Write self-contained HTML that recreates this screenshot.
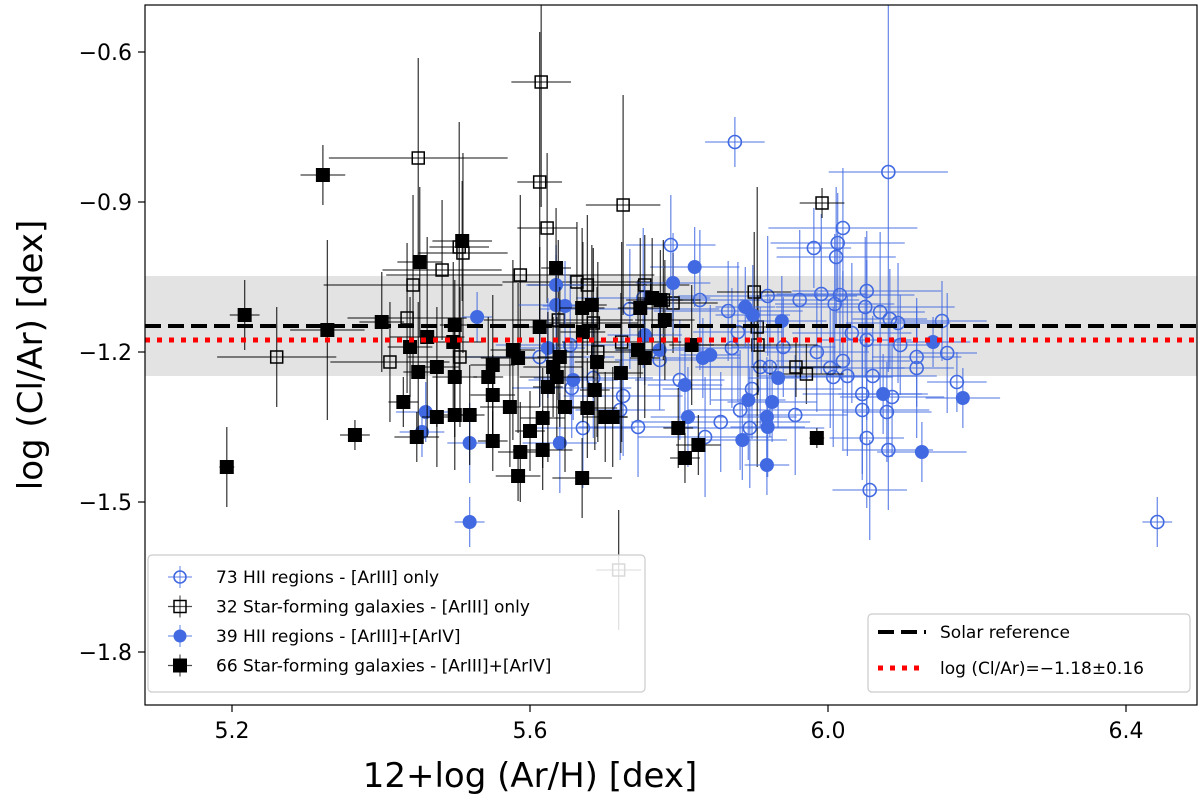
<!DOCTYPE html>
<html><head><meta charset="utf-8">
<style>
html,body{margin:0;padding:0;background:#fff;}
svg{display:block;font-family:"DejaVu Sans","Liberation Sans",sans-serif;}
</style></head>
<body>
<svg id="chart" width="1200" height="798" viewBox="0 0 1200 798" xmlns="http://www.w3.org/2000/svg">
<defs><clipPath id="plotclip"><rect x="145" y="5" width="1052" height="700"/></clipPath></defs>
<rect x="145" y="5" width="1052" height="700" fill="#fff" stroke="none"/>
<g id="band"></g>
<g id="marks" clip-path="url(#plotclip)"></g>
<g id="refs"></g>
<rect x="145" y="5" width="1052" height="700" fill="none" stroke="#000" stroke-width="1.2"/>
<g id="axes"></g>
<text x="530" y="787" font-size="34" text-anchor="middle">12+log (Ar/H) [dex]</text>
<text transform="translate(42,355) rotate(-90)" font-size="34" text-anchor="middle">log (Cl/Ar) [dex]</text>
<g id="legend1"></g>
<g id="legend2"></g>
</svg>
<script>
const xTicks=[5.2,5.6,6.0,6.4];
const xTickLabels=["5.2","5.6","6.0","6.4"];
const yTicks=[-0.6,-0.9,-1.2,-1.5,-1.8];
const yTickLabels=["\u22120.6","\u22120.9","\u22121.2","\u22121.5","\u22121.8"];
const solarRef=-1.148, fitValue=-1.176, bandLow=-1.248, bandHigh=-1.048;

const bfX=[5.322,5.217,5.328,5.365,5.193,5.401,5.430,5.452,5.509,5.462,5.439,5.450,5.475,5.499,5.497,5.499,5.475,5.499,5.519,5.448,5.550,5.544,5.550,5.550,5.573,5.577,5.584,5.587,5.584,5.600,5.617,5.617,5.613,5.635,5.640,5.631,5.636,5.624,5.647,5.670,5.670,5.683,5.671,5.690,5.687,5.677,5.701,5.711,5.722,5.748,5.764,5.775,5.781,5.745,5.754,5.817,5.799,5.826,5.808,5.985];
const bfY=[-0.846,-1.126,-1.156,-1.366,-1.430,-1.140,-1.300,-1.020,-0.978,-1.170,-1.190,-1.240,-1.230,-1.146,-1.180,-1.250,-1.330,-1.326,-1.326,-1.370,-1.226,-1.250,-1.286,-1.378,-1.310,-1.196,-1.212,-1.400,-1.448,-1.358,-1.332,-1.396,-1.150,-1.032,-1.210,-1.230,-1.250,-1.270,-1.310,-1.452,-1.112,-1.106,-1.160,-1.220,-1.276,-1.312,-1.330,-1.330,-1.242,-1.112,-1.092,-1.096,-1.136,-1.196,-1.212,-1.186,-1.352,-1.386,-1.412,-1.372];
const bfXe=[0.03,0.02,0.05,0.02,0.01,0.03,0.02,0.03,0.04,0.05,0.03,0.02,0.03,0.02,0.04,0.03,0.02,0.03,0.02,0.03,0.03,0.02,0.03,0.02,0.04,0.03,0.05,0.03,0.03,0.02,0.03,0.04,0.03,0.02,0.03,0.04,0.05,0.02,0.03,0.04,0.03,0.02,0.03,0.03,0.02,0.04,0.03,0.02,0.03,0.03,0.02,0.03,0.04,0.03,0.02,0.03,0.02,0.03,0.02,0.01];
const bfYe=[0.06,0.07,0.18,0.03,0.08,0.10,0.05,0.15,0.12,0.20,0.10,0.14,0.12,0.09,0.16,0.12,0.10,0.11,0.10,0.05,0.14,0.12,0.08,0.06,0.12,0.18,0.15,0.10,0.05,0.08,0.10,0.08,0.16,0.12,0.14,0.10,0.12,0.15,0.13,0.08,0.16,0.12,0.18,0.15,0.12,0.10,0.09,0.10,0.16,0.14,0.12,0.10,0.12,0.14,0.12,0.12,0.08,0.06,0.05,0.02];

const boX=[5.450,5.615,5.613,5.623,5.725,5.992,5.510,5.482,5.443,5.587,5.663,5.677,5.754,5.779,5.792,5.435,5.638,5.260,5.412,5.506,5.691,5.723,5.685,5.901,5.905,5.906,5.957,5.971,5.719,5.505];
const boY=[-0.812,-0.660,-0.860,-0.952,-0.906,-0.902,-1.002,-1.036,-1.066,-1.046,-1.060,-1.066,-1.066,-1.096,-1.102,-1.132,-1.136,-1.210,-1.220,-1.210,-1.200,-1.180,-1.142,-1.080,-1.150,-1.186,-1.230,-1.244,-1.636,-0.990];
const boXe=[0.12,0.04,0.03,0.04,0.05,0.03,0.06,0.08,0.12,0.18,0.10,0.08,0.06,0.05,0.06,0.08,0.10,0.08,0.08,0.07,0.06,0.08,0.06,0.05,0.03,0.08,0.06,0.05,0.03,0.04];
const boYe=[0.20,0.25,0.30,0.15,0.22,0.03,0.20,0.14,0.18,0.16,0.12,0.14,0.10,0.12,0.10,0.15,0.16,0.10,0.12,0.14,0.18,0.20,0.15,0.12,0.28,0.10,0.06,0.06,0.12,0.25];

const ooX=[5.875,6.081,5.789,6.020,6.013,5.981,6.011,5.919,5.866,5.879,5.871,5.940,5.991,6.016,6.009,6.052,6.050,6.070,6.083,6.094,6.153,6.032,6.052,5.985,6.119,6.119,6.160,6.020,6.003,6.007,6.026,6.060,6.173,5.909,5.922,5.898,6.046,6.086,6.046,6.079,5.956,5.856,5.895,5.745,5.835,6.052,6.081,6.056,5.725,5.721,5.671,5.654,5.656,5.734,5.752,5.613,5.685,6.442,5.801,5.828,5.774,5.882,5.962,6.097];
const ooY=[-0.780,-0.840,-0.986,-0.952,-0.982,-0.992,-1.010,-1.088,-1.118,-1.160,-1.192,-1.190,-1.084,-1.086,-1.104,-1.078,-1.110,-1.120,-1.134,-1.142,-1.138,-1.162,-1.176,-1.200,-1.210,-1.232,-1.202,-1.218,-1.232,-1.250,-1.248,-1.248,-1.260,-1.230,-1.230,-1.274,-1.284,-1.290,-1.316,-1.320,-1.326,-1.340,-1.352,-1.350,-1.370,-1.372,-1.396,-1.476,-1.288,-1.316,-1.352,-1.186,-1.272,-1.114,-1.092,-1.210,-1.252,-1.540,-1.256,-1.096,-1.216,-1.316,-1.096,-1.186];
const ooXe=[0.04,0.08,0.06,0.10,0.09,0.05,0.08,0.12,0.10,0.06,0.08,0.07,0.06,0.10,0.08,0.10,0.12,0.06,0.05,0.07,0.06,0.08,0.06,0.07,0.06,0.05,0.04,0.09,0.10,0.08,0.12,0.06,0.04,0.08,0.10,0.12,0.08,0.07,0.09,0.06,0.07,0.12,0.10,0.08,0.09,0.05,0.06,0.05,0.08,0.06,0.07,0.10,0.08,0.12,0.09,0.10,0.08,0.02,0.06,0.08,0.06,0.07,0.08,0.05];
const ooYe=[0.05,0.40,0.10,0.12,0.10,0.08,0.14,0.12,0.10,0.14,0.12,0.10,0.16,0.12,0.14,0.12,0.14,0.16,0.10,0.12,0.08,0.14,0.16,0.12,0.10,0.14,0.12,0.18,0.12,0.14,0.16,0.12,0.06,0.12,0.14,0.10,0.16,0.12,0.14,0.10,0.12,0.10,0.12,0.10,0.12,0.14,0.12,0.10,0.12,0.10,0.12,0.14,0.10,0.12,0.14,0.10,0.12,0.05,0.12,0.14,0.10,0.12,0.14,0.10];

const bcX=[5.635,5.635,5.647,5.529,5.624,5.658,5.460,5.455,5.519,5.640,5.519,5.821,5.792,5.889,5.899,5.938,5.832,5.842,5.774,5.808,5.933,5.893,5.925,5.812,5.918,5.919,5.885,5.918,6.141,6.074,6.181,6.126,5.754];
const bcY=[-1.066,-1.106,-1.108,-1.130,-1.192,-1.256,-1.320,-1.360,-1.382,-1.382,-1.540,-1.030,-1.062,-1.110,-1.126,-1.138,-1.212,-1.206,-1.196,-1.266,-1.252,-1.296,-1.300,-1.330,-1.330,-1.350,-1.376,-1.426,-1.180,-1.284,-1.292,-1.400,-1.166];
const bcXe=[0.04,0.05,0.03,0.02,0.05,0.06,0.04,0.03,0.03,0.05,0.02,0.06,0.05,0.04,0.05,0.06,0.05,0.04,0.06,0.05,0.04,0.05,0.06,0.05,0.04,0.05,0.06,0.03,0.05,0.06,0.05,0.06,0.05];
const bcYe=[0.08,0.10,0.09,0.05,0.10,0.08,0.06,0.05,0.08,0.10,0.05,0.08,0.10,0.08,0.10,0.09,0.08,0.10,0.10,0.08,0.10,0.12,0.08,0.10,0.12,0.10,0.08,0.06,0.05,0.08,0.06,0.06,0.10];

const X0=232, XS=745, Y0=52, YS=500;
function sx(v){return X0+(v-5.2)*XS;}
function sy(v){return Y0-(v+0.6)*YS;}
const NS="http://www.w3.org/2000/svg";
function mk(tag,attrs,parent){const e=document.createElementNS(NS,tag);for(const k in attrs)e.setAttribute(k,attrs[k]);parent.appendChild(e);return e;}

const band=document.getElementById('band');
const bandRect=mk('rect',{x:145,y:sy(bandHigh),width:1052,height:sy(bandLow)-sy(bandHigh),fill:'#e3e3e3'},band);



const marks=document.getElementById('marks');
const BLUE='#4169e1';
function series(xs,ys,xe,ye,kind,name){
  const g=mk('g',{},marks);
  
  
  const col=(kind==='oc'||kind==='fc')?BLUE:'#000';
  const op=0.75;
  for(let i=0;i<xs.length;i++){
    const cx=sx(xs[i]),cy=sy(ys[i]);
    const l1=mk('line',{x1:sx(xs[i]-xe[i]),x2:sx(xs[i]+xe[i]),y1:cy,y2:cy,stroke:col,'stroke-width':1.3,'stroke-opacity':op},g);
    
    
    const l2=mk('line',{x1:cx,x2:cx,y1:sy(ys[i]-ye[i]),y2:sy(ys[i]+ye[i]),stroke:col,'stroke-width':1.3,'stroke-opacity':op},g);
    
    
  }
  for(let i=0;i<xs.length;i++){
    const cx=sx(xs[i]),cy=sy(ys[i]);
    let m;
    if(kind==='fs') m=mk('rect',{x:cx-7,y:cy-7,width:14,height:14,fill:'#000'},g);
    else if(kind==='os') m=mk('rect',{x:cx-6,y:cy-6,width:12,height:12,fill:'none',stroke:'#000','stroke-width':1.5},g);
    else if(kind==='oc') m=mk('circle',{cx:cx,cy:cy,r:6.5,fill:'none',stroke:BLUE,'stroke-width':1.6},g);
    else m=mk('circle',{cx:cx,cy:cy,r:7,fill:BLUE},g);
    
    
  }
}
series(ooX,ooY,ooXe,ooYe,'oc','hii-arIII-only-series');
series(boX,boY,boXe,boYe,'os','sfg-arIII-only-series');
series(bcX,bcY,bcXe,bcYe,'fc','hii-arIII-arIV-series');
series(bfX,bfY,bfXe,bfYe,'fs','sfg-arIII-arIV-series');

const refs=document.getElementById('refs');
const sl=mk('line',{x1:145,x2:1197,y1:sy(solarRef),y2:sy(solarRef),stroke:'#000','stroke-width':4,'stroke-dasharray':'16,7'},refs);


const fl=mk('line',{x1:145,x2:1197,y1:sy(fitValue),y2:sy(fitValue),stroke:'#ff0000','stroke-width':5,'stroke-dasharray':'5,7'},refs);



const axes=document.getElementById('axes');
xTicks.forEach((v,i)=>{
  const t=mk('line',{x1:sx(v),x2:sx(v),y1:705,y2:712,stroke:'#000','stroke-width':1.2},axes);
  
  
  const tx=mk('text',{x:sx(v),y:738,'font-size':22,'text-anchor':'middle'},axes);
  tx.textContent=xTickLabels[i];
  
  
});
yTicks.forEach((v,i)=>{
  const t=mk('line',{x1:138,x2:145,y1:sy(v),y2:sy(v),stroke:'#000','stroke-width':1.2},axes);
  
  
  const tx=mk('text',{x:132,y:sy(v)+8,'font-size':22,'text-anchor':'end'},axes);
  tx.textContent=yTickLabels[i];
  
  
});

const lg1=document.getElementById('legend1');


const b1=mk('rect',{x:148,y:555,width:497,height:137,rx:4,fill:'#fff','fill-opacity':0.85,stroke:'#ccc','stroke-width':1.2},lg1);


const entries=["73 HII regions - [ArIII] only","32 Star-forming galaxies - [ArIII] only","39 HII regions - [ArIII]+[ArIV]","66 Star-forming galaxies - [ArIII]+[ArIV]"];
const kinds=['oc','os','fc','fs'];
entries.forEach((t,i)=>{
  const y=577+i*29.5;
  const g=mk('g',{},lg1);
  
  
  const col=(kinds[i]==='oc'||kinds[i]==='fc')?BLUE:'#000';
  mk('line',{x1:168,x2:192,y1:y,y2:y,stroke:col,'stroke-width':1.2,'stroke-opacity':0.7},g);
  mk('line',{x1:180,x2:180,y1:y-11,y2:y+11,stroke:col,'stroke-width':1.2,'stroke-opacity':0.7},g);
  if(kinds[i]==='oc') mk('circle',{cx:180,cy:y,r:6,fill:'none',stroke:BLUE,'stroke-width':1.6},g);
  else if(kinds[i]==='os') mk('rect',{x:174,y:y-6,width:12,height:12,fill:'none',stroke:'#000','stroke-width':1.5},g);
  else if(kinds[i]==='fc') mk('circle',{cx:180,cy:y,r:6.5,fill:BLUE},g);
  else mk('rect',{x:173,y:y-7,width:14,height:14,fill:'#000'},g);
  const tx=mk('text',{x:216,y:y+6,'font-size':17},g);
  tx.textContent=t;
});

const lg2=document.getElementById('legend2');


const b2=mk('rect',{x:868,y:614,width:322,height:78,rx:4,fill:'#fff','fill-opacity':0.85,stroke:'#ccc','stroke-width':1.2},lg2);


const e1=mk('g',{},lg2);


mk('line',{x1:878,x2:926,y1:632,y2:632,stroke:'#000','stroke-width':4,'stroke-dasharray':'16,7'},e1);
const t1=mk('text',{x:940,y:638,'font-size':17},e1);t1.textContent='Solar reference';
const e2=mk('g',{},lg2);


mk('line',{x1:878,x2:926,y1:668,y2:668,stroke:'#ff0000','stroke-width':5,'stroke-dasharray':'5,7'},e2);
const t2=mk('text',{x:940,y:674,'font-size':17},e2);t2.textContent='log (Cl/Ar)=\u22121.18\u00b10.16';
</script>
</body></html>
